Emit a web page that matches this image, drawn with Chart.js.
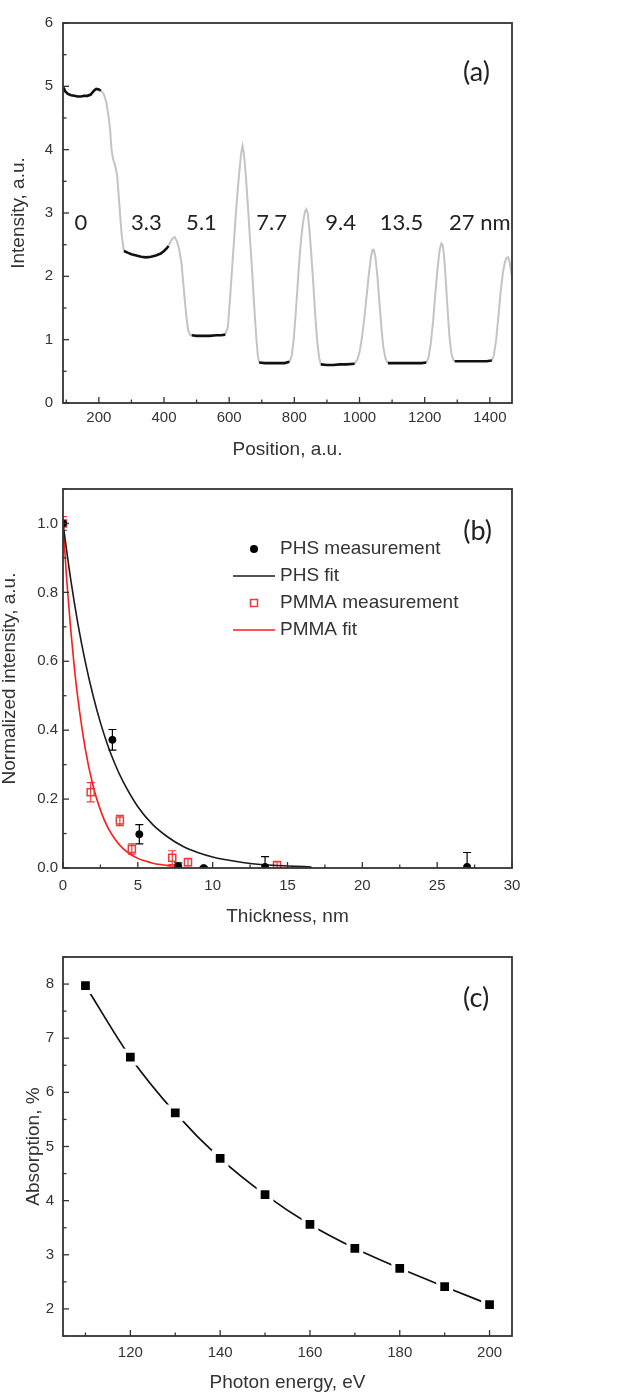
<!DOCTYPE html>
<html>
<head>
<meta charset="utf-8">
<script src="https://cdn.jsdelivr.net/npm/chart.js@4.4.0/dist/chart.umd.min.js"></script>
<style>
	body { margin: 0; background: #fff; }
	canvas { display: block; }
</style>
</head>
<body>
<canvas id="chartA" width="619" height="466"></canvas>
<canvas id="chartB" width="619" height="466"></canvas>
<canvas id="chartC" width="619" height="467"></canvas>
<script>
// (a) intensity profile along the wedge: flat steps (black) and the edges between them (grey)
const stepPos = [
	[92, 97, 105, 115, 125, 135, 145, 155, 165, 175, 185, 192, 200, 206],
	[277, 290, 300, 315, 330, 345, 360, 375, 390, 400, 408, 414],
	[485, 500, 520, 540, 560, 575, 588],
	[692, 710, 730, 750, 770, 785],
	[881, 900, 920, 940, 960, 985],
	[1087, 1110, 1130, 1150, 1170, 1190, 1205],
	[1292, 1310, 1330, 1350, 1370, 1390, 1406]
];
const stepInt = [
	[4.98, 4.92, 4.88, 4.86, 4.85, 4.84, 4.84, 4.85, 4.85, 4.87, 4.93, 4.96, 4.95, 4.93],
	[2.40, 2.37, 2.35, 2.33, 2.31, 2.30, 2.31, 2.33, 2.36, 2.40, 2.44, 2.48],
	[1.07, 1.06, 1.06, 1.06, 1.07, 1.07, 1.08],
	[0.64, 0.63, 0.63, 0.63, 0.63, 0.65],
	[0.61, 0.60, 0.60, 0.61, 0.61, 0.62],
	[0.63, 0.63, 0.63, 0.63, 0.63, 0.63, 0.64],
	[0.66, 0.66, 0.66, 0.66, 0.66, 0.66, 0.67]
];
const edgePos = [
	[206, 215, 223, 229, 234, 239, 244, 250, 256, 262, 270, 277],
	[414, 420, 427, 433, 440, 447, 454, 459, 464, 469, 474, 480, 485],
	[588, 596, 602, 608, 614, 620, 626, 632, 637, 641, 645, 651, 657, 663, 669, 674, 679, 684, 688, 692],
	[785, 792, 798, 804, 810, 816, 822, 828, 833, 837, 841, 846, 852, 858, 864, 870, 876, 881],
	[985, 993, 1000, 1008, 1015, 1022, 1029, 1035, 1040, 1044, 1049, 1055, 1061, 1067, 1073, 1080, 1087],
	[1205, 1212, 1219, 1226, 1233, 1240, 1246, 1251, 1255, 1259, 1264, 1270, 1276, 1282, 1288, 1292],
	[1406, 1412, 1419, 1426, 1433, 1440, 1446, 1451, 1456, 1461, 1466, 1470]
];
const edgeInt = [
	[4.93, 4.88, 4.75, 4.55, 4.35, 4.00, 3.85, 3.75, 3.60, 3.20, 2.66, 2.40],
	[2.48, 2.55, 2.60, 2.62, 2.55, 2.42, 2.19, 1.90, 1.61, 1.35, 1.15, 1.08, 1.07],
	[1.08, 1.20, 1.60, 2.05, 2.50, 2.95, 3.35, 3.70, 3.95, 4.06, 3.95, 3.60, 3.15, 2.66, 2.20, 1.77, 1.35, 0.98, 0.75, 0.64],
	[0.65, 0.75, 1.00, 1.40, 1.85, 2.30, 2.65, 2.90, 3.03, 3.06, 3.00, 2.75, 2.35, 1.90, 1.40, 0.98, 0.72, 0.61],
	[0.62, 0.68, 0.80, 1.05, 1.35, 1.70, 2.05, 2.30, 2.42, 2.42, 2.30, 2.00, 1.60, 1.20, 0.88, 0.70, 0.63],
	[0.64, 0.72, 0.95, 1.30, 1.75, 2.15, 2.42, 2.52, 2.50, 2.35, 2.00, 1.50, 1.05, 0.78, 0.68, 0.66],
	[0.67, 0.75, 0.98, 1.35, 1.75, 2.05, 2.22, 2.29, 2.30, 2.22, 2.05, 1.95]
];
const stepLabels = ['0', '3.3', '5.1', '7.7', '9.4', '13.5', '27 nm'];

// (b) normalized intensity against film thickness
const phsThick = [0, 3.3, 5.1, 7.7, 9.4, 13.5, 27];
const phsInt = [1.0, 0.372, 0.098, 0.005, 0.0, 0.003, 0.003];
const phsErr = [0, 0.03, 0.028, 0.01, 0.004, 0.03, 0.042];
const pmmaThick = [0, 1.85, 3.8, 4.6, 7.3, 8.35, 14.3];
const pmmaInt = [1.0, 0.22, 0.138, 0.055, 0.03, 0.017, 0.008];
const pmmaErr = [0.02, 0.028, 0.015, 0.015, 0.02, 0.01, 0.011];
const phsFitX = [0, 0.5, 1, 1.5, 2, 2.5, 3, 3.5, 4, 5, 6, 7, 8, 9, 10, 11, 12, 13, 14, 15, 16.6];
const phsFitY = [1.0, 0.842, 0.708, 0.596, 0.502, 0.422, 0.355, 0.299, 0.252, 0.178, 0.126, 0.09, 0.063, 0.045, 0.032, 0.023, 0.016, 0.011, 0.008, 0.006, 0.003];
const pmmaFitX = [0, 0.25, 0.5, 0.75, 1, 1.5, 2, 2.5, 3, 3.5, 4, 4.5, 5, 5.5, 6, 6.5, 7, 7.5];
const pmmaFitY = [1.0, 0.836, 0.70, 0.585, 0.49, 0.343, 0.24, 0.168, 0.117, 0.082, 0.057, 0.04, 0.028, 0.02, 0.014, 0.01, 0.007, 0.005];

// (c) absorption against photon energy
const energy = [110, 120, 130, 140, 150, 160, 170, 180, 190, 200];
const absorption = [7.97, 6.65, 5.62, 4.78, 4.11, 3.56, 3.12, 2.75, 2.41, 2.08];

const FONT = "'Liberation Sans', Arial, sans-serif";
const NOTE_FONT = "Lato, 'Open Sans', sans-serif";
const INK = '#333';

function points(xs, ys) {
	return xs.map((x, i) => ({ x: x, y: ys[i] }));
}

// several segments in one dataset, broken by a null point
function segments(xs, ys) {
	let pts = [];
	xs.forEach((seg, i) => {
		pts = pts.concat(points(seg, ys[i]));
		pts.push({ x: seg[seg.length - 1], y: null });
	});
	return pts;
}

function tickValues(min, max, step) {
	const out = [];
	for (let i = Math.ceil(min / step - 1e-9); i * step <= max + 1e-9; i++) out.push(Math.round(i * step * 1e6) / 1e6);
	return out;
}

function isMajor(v, step) {
	return Math.abs(v / step - Math.round(v / step)) < 1e-6;
}

// box round the plot, with inward ticks on the bottom and left axes (Origin style)
function makeFrame(xMinor, xMajor, yMinor, yMajor) {
	return {
		id: 'frame',
		afterDraw(chart) {
			const { ctx, chartArea: a, scales: { x, y } } = chart;
			ctx.save();
			ctx.strokeStyle = INK;
			ctx.lineWidth = 1.3;
			tickValues(x.min, x.max, xMinor).forEach(v => {
				const px = x.getPixelForValue(v);
				const len = isMajor(v, xMajor) ? 6 : 3.5;
				ctx.beginPath(); ctx.moveTo(px, a.bottom); ctx.lineTo(px, a.bottom - len); ctx.stroke();
			});
			tickValues(y.min, y.max, yMinor).forEach(v => {
				const py = y.getPixelForValue(v);
				const len = isMajor(v, yMajor) ? 6 : 3.5;
				ctx.beginPath(); ctx.moveTo(a.left, py); ctx.lineTo(a.left + len, py); ctx.stroke();
			});
			ctx.lineWidth = 1.8;
			ctx.strokeRect(a.left, a.top, a.right - a.left, a.bottom - a.top);
			ctx.restore();
		}
	};
}

// free text placed at data coordinates
function makeNotes(items) {
	return {
		id: 'notes',
		afterDraw(chart) {
			const { ctx, scales: { x, y } } = chart;
			ctx.save();
			ctx.fillStyle = '#222';
			ctx.textAlign = 'center';
			ctx.textBaseline = 'middle';
			items.forEach(n => {
				ctx.font = n.size + 'px ' + NOTE_FONT;
				ctx.fillText(n.text, x.getPixelForValue(n.x), y.getPixelForValue(n.y));
			});
			ctx.restore();
		}
	};
}

const errorBars = {
	id: 'errorBars',
	beforeDatasetsDraw(chart) {
		const { ctx, chartArea: a, scales: { x, y } } = chart;
		ctx.save();
		ctx.beginPath();
		ctx.rect(a.left, a.top, a.right - a.left, a.bottom - a.top);
		ctx.clip();
		chart.data.datasets.forEach(ds => {
			if (!ds.errors) return;
			ctx.strokeStyle = ds.borderColor;
			ctx.lineWidth = 1.2;
			ds.data.forEach((p, i) => {
				if (!ds.errors[i]) return;
				const px = x.getPixelForValue(p.x);
				const top = y.getPixelForValue(p.y + ds.errors[i]);
				const bot = y.getPixelForValue(p.y - ds.errors[i]);
				ctx.beginPath();
				ctx.moveTo(px, top); ctx.lineTo(px, bot);
				ctx.moveTo(px - 4, top); ctx.lineTo(px + 4, top);
				ctx.moveTo(px - 4, bot); ctx.lineTo(px + 4, bot);
				ctx.stroke();
			});
		});
		ctx.restore();
	}
};

// legend drawn inside the plot, one row per dataset
const insideLegend = {
	id: 'insideLegend',
	afterDraw(chart) {
		const { ctx, chartArea: a } = chart;
		ctx.save();
		ctx.font = '19px ' + FONT;
		ctx.textBaseline = 'middle';
		chart.data.datasets.forEach((ds, i) => {
			const cx = a.left + 191, cy = a.top + 60 + i * 27;
			ctx.strokeStyle = ds.borderColor;
			ctx.fillStyle = ds.borderColor;
			if (ds.showLine !== false) {
				ctx.lineWidth = 1.6;
				ctx.beginPath(); ctx.moveTo(cx - 21, cy); ctx.lineTo(cx + 21, cy); ctx.stroke();
			} else if (ds.pointStyle === 'rect') {
				ctx.lineWidth = 1.5;
				ctx.strokeRect(cx - 3.5, cy - 3.5, 7, 7);
			} else {
				ctx.beginPath(); ctx.arc(cx, cy, 4, 0, Math.PI * 2); ctx.fill();
			}
			ctx.fillStyle = INK;
			ctx.fillText(ds.label, cx + 26, cy);
		});
		ctx.restore();
	}
};

function axis(min, max, step, title, size, tickPad, titlePad, horizontal, fmt) {
	return {
		type: 'linear',
		min: min,
		max: max,
		grid: { display: false, drawTicks: false },
		border: { display: false },
		ticks: {
			padding: tickPad, color: INK,
			font: { family: FONT, size: 15 }, maxRotation: 0, autoSkip: false, callback: fmt
		},
		// labelled ticks only on round values inside the range
		afterBuildTicks: s => { s.ticks = tickValues(min, max, step).map(v => ({ value: v })); },
		title: {
			display: true, text: title, color: INK,
			font: { family: FONT, size: 19, lineHeight: 1 },
			padding: horizontal ? { top: 0, bottom: titlePad } : { top: titlePad, bottom: 0 }
		},
		afterFit: horizontal ? s => { s.height = size; } : s => { s.width = size; }
	};
}

function baseOptions(top, scales) {
	return {
		responsive: false,
		animation: false,
		events: [],
		layout: { padding: { top: top, right: 107, left: 0, bottom: 0 } },
		plugins: { legend: { display: false }, tooltip: { enabled: false } },
		scales: scales
	};
}

const whole = v => String(v);

// ---- (a) ----
const stepLabelX = [145, 346, 515, 730, 942, 1129, 1369];
new Chart(document.getElementById('chartA'), {
	type: 'line',
	data: {
		datasets: [{
			data: segments(stepPos, stepInt),
			borderColor: '#111',
			borderWidth: 2.6,
			pointRadius: 0
		}, {
			data: segments(edgePos, edgeInt),
			borderColor: '#c4c4c4',
			borderWidth: 2,
			pointRadius: 0
		}]
	},
	options: baseOptions(23, {
		x: axis(90, 1468, 200, 'Position, a.u.', 63, 6, 7, true, whole),
		y: axis(0, 6, 1, 'Intensity, a.u.', 63, 10, 9, false, whole)
	}),
	plugins: [makeFrame(100, 200, 0.5, 1),
		makeNotes(stepLabels.map((t, i) => ({ text: t, x: stepLabelX[i], y: 2.85, size: 22 }))
			.concat([{ text: '(a)', x: 1359, y: 5.22, size: 27 }]))]
});

// ---- (b) ----
new Chart(document.getElementById('chartB'), {
	type: 'line',
	data: {
		datasets: [{
			label: 'PHS measurement',
			data: points(phsThick, phsInt),
			errors: phsErr,
			showLine: false,
			borderColor: '#000',
			pointStyle: 'circle',
			pointRadius: 3.6,
			pointBackgroundColor: '#000',
			pointBorderWidth: 0.8
		}, {
			label: 'PHS fit',
			data: points(phsFitX, phsFitY),
			borderColor: '#1a1a1a',
			borderWidth: 1.6,
			pointRadius: 0,
			cubicInterpolationMode: 'monotone'
		}, {
			label: 'PMMA measurement',
			data: points(pmmaThick, pmmaInt),
			errors: pmmaErr,
			showLine: false,
			borderColor: '#f03a3a',
			pointStyle: 'rect',
			pointRadius: 5,
			pointBackgroundColor: 'rgba(255,255,255,0)',
			pointBorderWidth: 1.5
		}, {
			label: 'PMMA fit',
			data: points(pmmaFitX, pmmaFitY),
			borderColor: '#ff1a1a',
			borderWidth: 1.6,
			pointRadius: 0,
			cubicInterpolationMode: 'monotone'
		}]
	},
	options: baseOptions(23, {
		x: axis(0, 30, 5, 'Thickness, nm', 64, 9, 6, true, whole),
		y: axis(0, 1.1, 0.2, 'Normalized intensity, a.u.', 63, 5, 0.5, false, v => v.toFixed(1))
	}),
	plugins: [errorBars, makeFrame(2.5, 5, 0.1, 0.2), insideLegend,
		makeNotes([{ text: '(b)', x: 27.7, y: 0.978, size: 27 }])]
});

// ---- (c) ----
new Chart(document.getElementById('chartC'), {
	type: 'line',
	data: {
		datasets: [{
			data: points(energy, absorption),
			borderColor: '#111',
			borderWidth: 1.7,
			tension: 0.4,
			cubicInterpolationMode: 'monotone',
			pointStyle: 'rect',
			pointRadius: 9,
			pointBackgroundColor: '#000',
			pointBorderColor: '#fff',
			pointBorderWidth: 4
		}]
	},
	options: baseOptions(25, {
		x: axis(105, 205, 20, 'Photon energy, eV', 63, 8, 6.5, true, whole),
		y: axis(1.5, 8.5, 1, 'Absorption, %', 63, 9, 24, false, whole)
	}),
	plugins: [makeFrame(10, 20, 0.5, 1), makeNotes([{ text: '(c)', x: 197, y: 7.74, size: 27 }])]
});
</script>
</body>
</html>
